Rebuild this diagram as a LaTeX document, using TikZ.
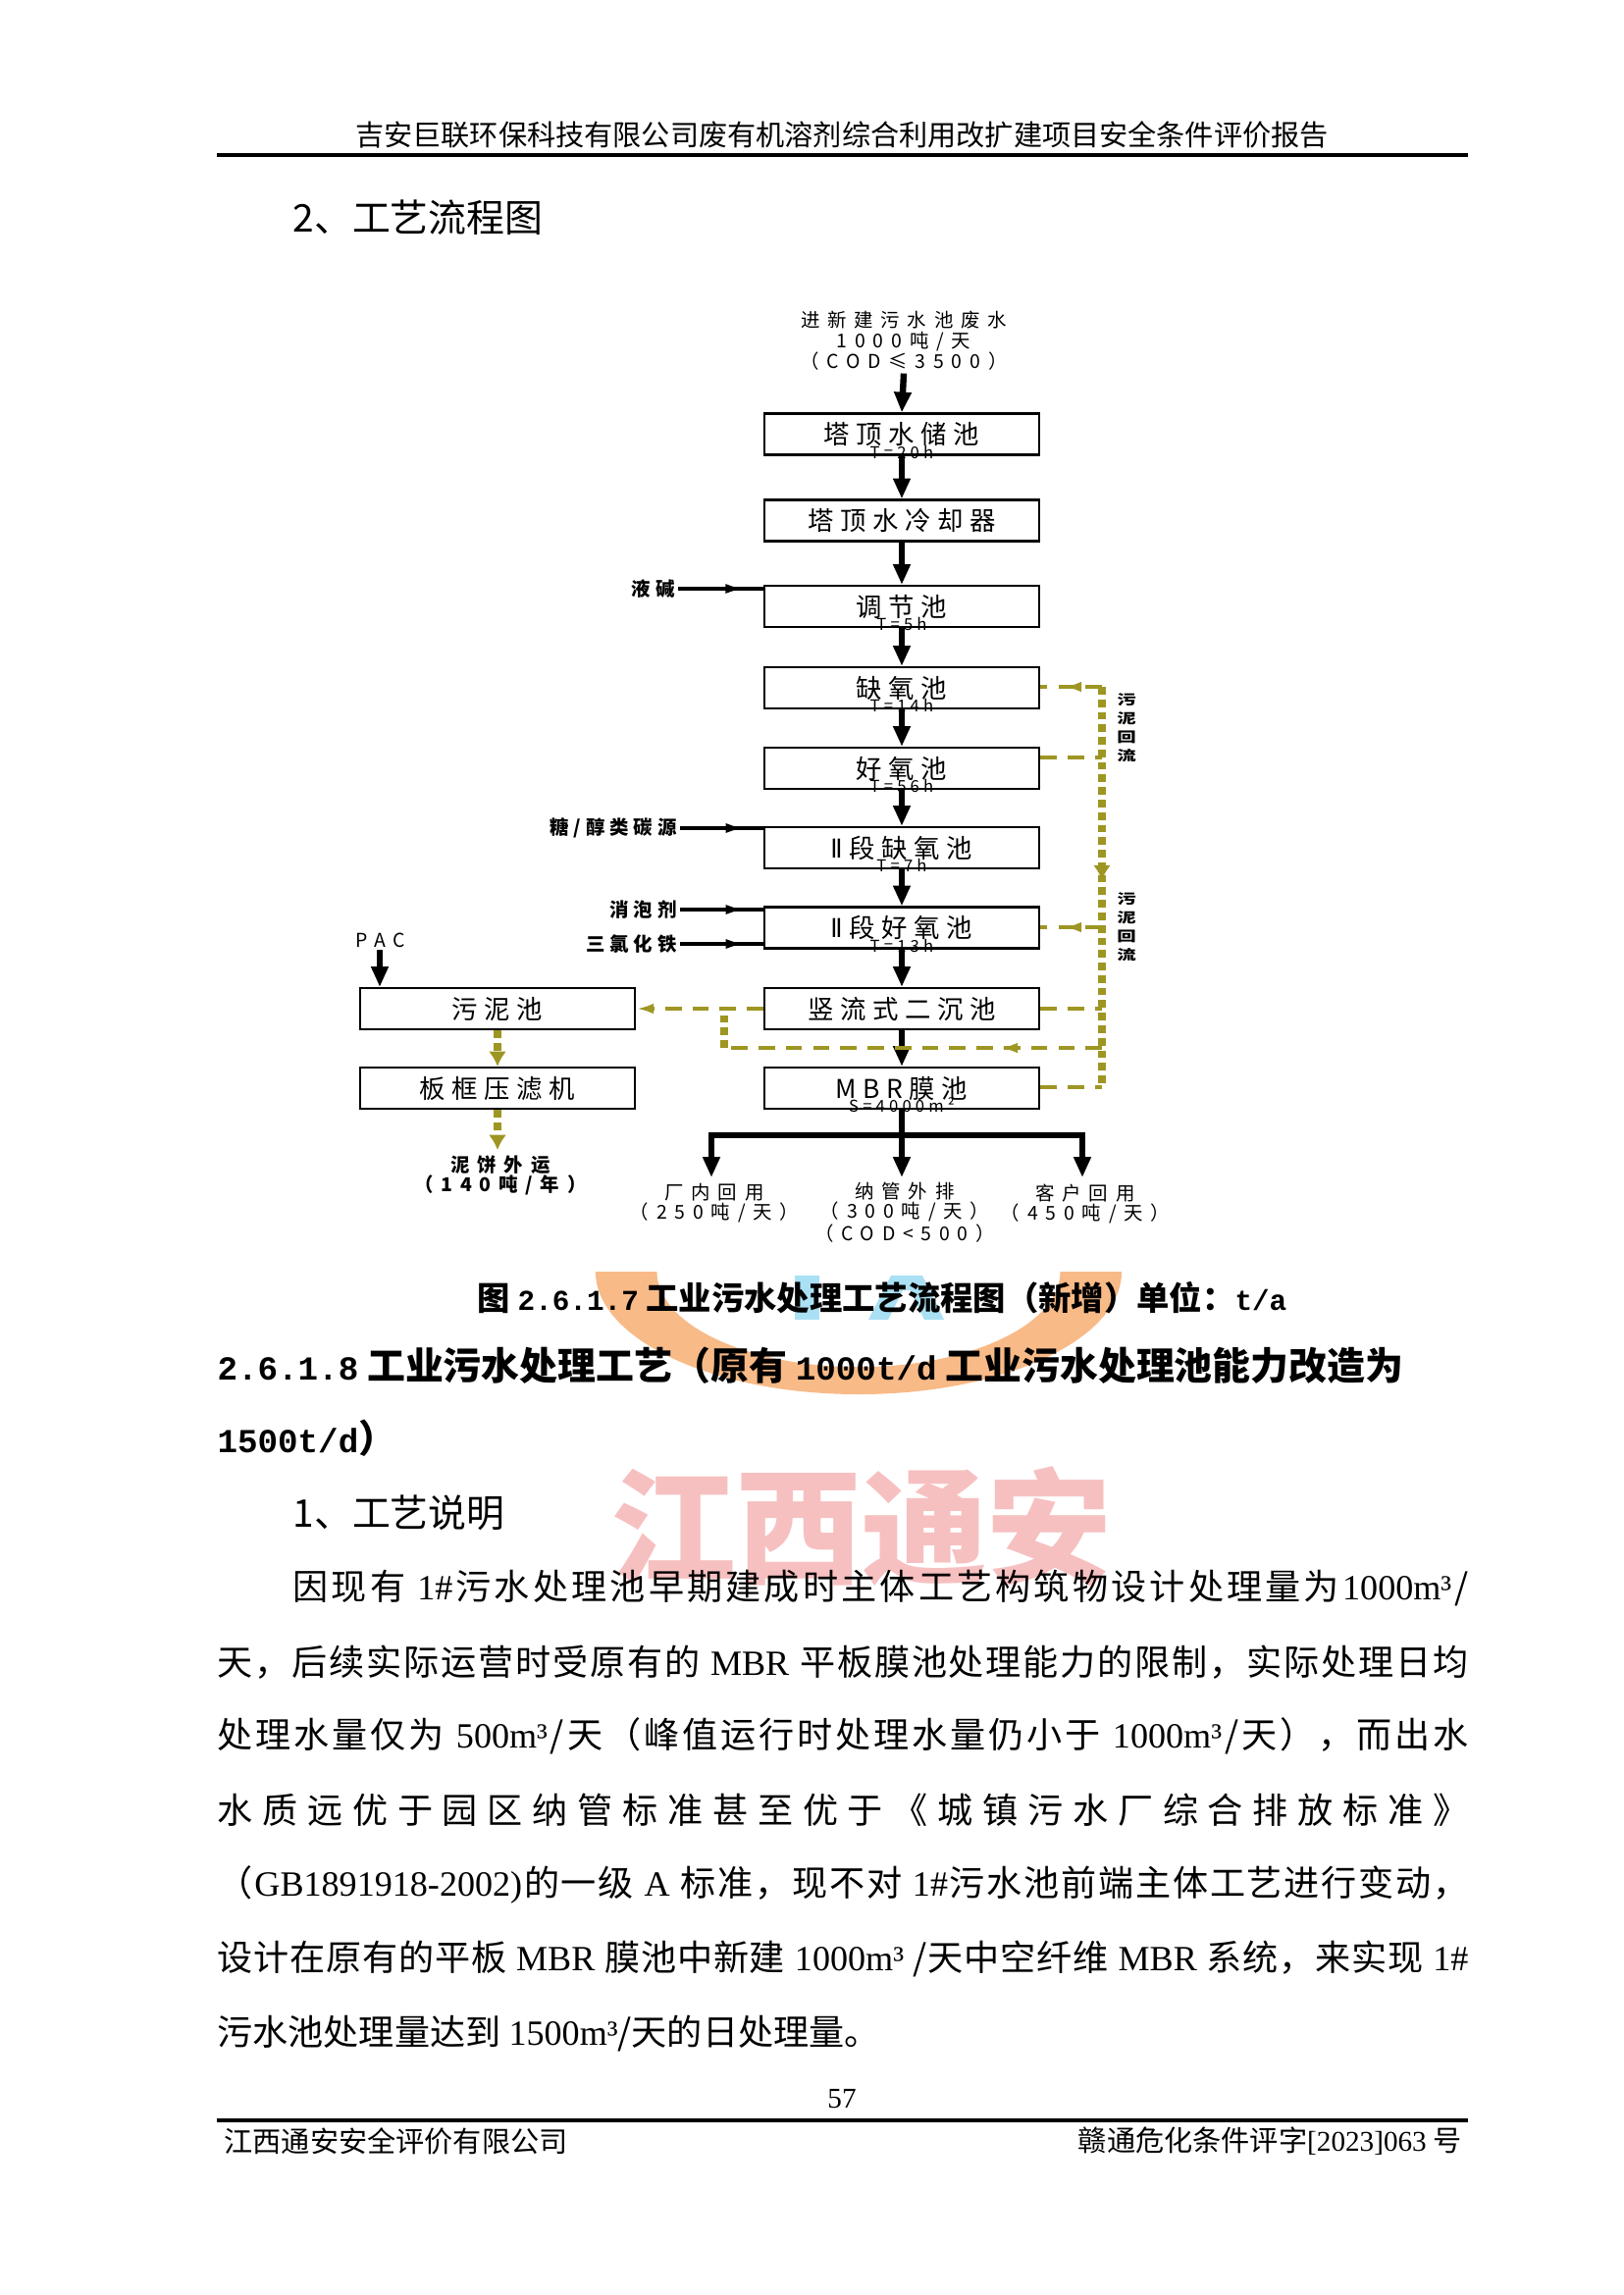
\documentclass[tikz,border=0pt]{standalone}
\usepackage{fontspec}
\usepackage{graphicx}
\setmainfont{Noto Sans CJK SC}
\newfontfamily\latf{Liberation Serif}
\newfontfamily\monof[Scale=0.88]{Liberation Mono}
\newfontfamily\dgf[LetterSpace=25]{Noto Sans CJK SC}
\newfontfamily\dgw[LetterSpace=40]{Noto Sans CJK SC}
\usetikzlibrary{arrows.meta,decorations.markings}
\definecolor{olv}{RGB}{158,150,35}
\definecolor{wpink}{RGB}{247,192,192}
\definecolor{lorange}{RGB}{248,186,135}
\definecolor{lblue}{RGB}{170,224,243}
\makeatletter
\def\spr@stop{\spr@stop}
\def\spr@stopm{\spr@stop}
\def\spr#1{\spr@first#1\spr@stop}
\def\spr@first#1{{#1}\spr@next}
\def\spr@next#1{\def\spr@tmp{#1}\ifx\spr@tmp\spr@stopm\else\hfil{#1}\expandafter\spr@next\fi}
\makeatother
\newcommand\bodyf{\fontsize{13}{16}\selectfont}
\tikzset{
  box/.style={draw, line width=0.8pt, minimum width=100.8pt, minimum height=15.1pt, inner sep=0pt, font=\dgf\fontsize{9.5}{10}\selectfont},
  tl/.style={inner sep=0pt, font=\dgf\fontsize{6}{6}\selectfont},
  flow/.style={line width=2.3pt, -{Triangle[length=7.5pt,width=6pt]}},
  flowline/.style={line width=2.3pt},
  thinline/.style={line width=1.2pt},
  midarrow/.style={postaction={decorate}, decoration={markings, mark=at position #1 with {\arrow{Latex[length=7pt,width=3.6pt]}}}},
  hd/.style={color=olv, line width=1.6pt, dash pattern=on 6pt off 4pt},
  vd/.style={color=olv, line width=2.8pt, dash pattern=on 2.8pt off 1.8pt},
  oarrowh/.style={postaction={decorate}, decoration={markings, mark=at position #1 with {\arrow[color=olv]{Latex[length=6.5pt,width=3.8pt]}}}},
  oarrowv/.style={postaction={decorate}, decoration={markings, mark=at position #1 with {\arrow[color=olv]{Latex[length=5.5pt,width=6.5pt]}}}},
  slab/.style={inner sep=0pt, font=\dgf\bfseries\fontsize{7}{8}\selectfont},
  blab/.style={inner sep=0pt, align=center, font=\dgw\fontsize{7}{7.2}\selectfont},
  vlab/.style={inner sep=0pt, font=\bfseries\fontsize{7}{8}\selectfont},
  plain/.style={inner sep=0pt},
}
\newcommand\vstack[1]{\scalebox{1}[0.72]{\shortstack{#1}}}
\begin{document}
\begin{tikzpicture}[x=0.36pt,y=-0.36pt]
\fill[white] (0,0) rectangle (1654,2339);
\useasboundingbox (0,0) rectangle (1654,2339);

% ---- watermark logo ----
\begin{scope}
  \clip (590,1296) rectangle (1160,1440);
  \fill[lorange, even odd rule] (875,1296) ellipse [x radius=96.5pt, y radius=45pt]
                                (875,1296) ellipse [x radius=74pt, y radius=35pt];
\end{scope}
\fill[lblue] (810,1300) rectangle (835,1345);
\fill[lblue] (885,1345) -- (908,1300) -- (940,1300) -- (962,1345) -- (942,1345) -- (928,1315) -- (920,1315) -- (905,1345) -- cycle;
\node[plain, text=wpink, font=\bfseries\fontsize{46}{46}\selectfont] (wm) at (878,1556) {江西通安};

% ---- page header ----
\node[plain, font=\fontsize{10.5}{12}\selectfont] (hdr) at (858,137) {吉安巨联环保科技有限公司废有机溶剂综合利用改扩建项目安全条件评价报告};
\coordinate (hrl) at (221,158);
\coordinate (hrr) at (1496,158);
\draw[line width=1.2pt] (hrl) -- (hrr);
\node[plain, anchor=west, font=\fontsize{14}{16}\selectfont] (sec2) at (298,222) {2、工艺流程图};

% ---- main column boxes ----
\node[blab, font=\dgw\fontsize{7}{7.6}\selectfont] (IN) at (921,347) {进新建污水池废水\\1000吨/天\\（COD≤3500）};
\node[box] (B1) at (919,442.5) {塔顶水储池};
\node[tl] (T1) at ([yshift=1.4pt]B1.south) {T=20h};
\node[box] (B2) at (919,530.5) {塔顶水冷却器};
\node[box] (B3) at (919,618) {调节池};
\node[tl] (T3) at ([yshift=1.4pt]B3.south) {T=5h};
\node[box] (B4) at (919,701) {缺氧池};
\node[tl] (T4) at ([yshift=1.4pt]B4.south) {T=14h};
\node[box] (B5) at (919,783) {好氧池};
\node[tl] (T5) at ([yshift=1.4pt]B5.south) {T=56h};
\node[box] (B6) at (919,864) {I\kern-1pt I段缺氧池};
\node[tl] (T6) at ([yshift=1.4pt]B6.south) {T=7h};
\node[box] (B7) at (919,945.5) {I\kern-1pt I段好氧池};
\node[tl] (T7) at ([yshift=1.4pt]B7.south) {T=13h};
\node[box] (B8) at (919,1028) {竖流式二沉池};
\node[box] (B9) at (919,1109) {MBR膜池};
\node[tl] (T9) at ([yshift=1.8pt]B9.south) {S=4000m²};
\node[box] (S1) at (507,1028) {污泥池};
\node[box] (S2) at (507,1109) {板框压滤机};

% ---- main flow ----
\draw[flow] ([yshift=-1pt]IN.south) -- (B1.north);
\draw[flow] (B1.south) -- (B2.north);
\draw[flow] (B2.south) -- (B3.north);
\draw[flow] (B3.south) -- (B4.north);
\draw[flow] (B4.south) -- (B5.north);
\draw[flow] (B5.south) -- (B6.north);
\draw[flow] (B6.south) -- (B7.north);
\draw[flow] (B7.south) -- (B8.north);
\draw[flow] (B8.south) -- (B9.north);

% ---- side inputs ----
\node[slab, anchor=east] (LJ) at (688,600) {液碱};
\node[slab, anchor=east] (TC) at (690,844) {糖/醇类碳源};
\node[slab, anchor=east] (XP) at (690,927) {消泡剂};
\node[slab, anchor=east] (SL) at (690,962) {三氯化铁};
\draw[thinline, midarrow=0.78] ([xshift=1pt]LJ.east) -- (B3.west |- LJ.east);
\draw[thinline, midarrow=0.78] ([xshift=1pt]TC.east) -- (B6.west |- TC.east);
\draw[thinline, midarrow=0.78] ([xshift=1pt]XP.east) -- (B7.west |- XP.east);
\draw[thinline, midarrow=0.78] ([xshift=1pt]SL.east) -- (B7.west |- SL.east);

% ---- PAC ----
\node[plain, font=\dgw\fontsize{7}{8}\selectfont] (PAC) at (388,958) {PAC};
\coordinate (pa) at (387,968);
\draw[flow] (pa) -- (pa |- S1.north);

% ---- outputs ----
\coordinate (jm) at (919,1157);
\coordinate (o1) at (725,1200);
\coordinate (o2) at (919,1200);
\coordinate (o3) at (1103,1200);
\draw[flowline] (B9.south) -- (jm);
\draw[flow] (jm) -| (o1);
\draw[flow] (jm) -| (o3);
\draw[flow] (jm) -- (o2);
\node[blab] (O1) at (728,1226.5) {厂内回用\\（250吨/天）};
\node[blab] (O2) at (922,1236) {纳管外排\\（300吨/天）\\（COD<500）};
\node[blab] (O3) at (1106,1226.5) {客户回用\\（450吨/天）};

% ---- sludge recycle (olive dashed) ----
\coordinate (rT) at (1123,700);
\coordinate (r5) at (1123,772);
\coordinate (r7) at (1123,945);
\coordinate (r8) at (1123,1028);
\coordinate (rH) at (1123,1068);
\coordinate (rM) at (1123,1108);
\coordinate (lH) at (738,1068);
\coordinate (lU) at (738,1028);
\coordinate (cake) at (507,1172);
\draw[vd, oarrowv=0.483] (rT) -- (rM);
\draw[hd, oarrowh=0.62] (rT) -- (B4.east |- rT);
\draw[hd] (B5.east |- r5) -- (r5);
\draw[hd, oarrowh=0.62] (r7) -- (B7.east |- r7);
\draw[hd] (B8.east) -- (r8);
\draw[hd] (B9.east |- rM) -- (rM);
\draw[hd, oarrowh=0.27] (rH) -- (lH);
\draw[vd] (lH) -- (lU);
\draw[hd, -{Latex[length=6.5pt,width=3.8pt]}] (B8.west) -- (S1.east);
\draw[vd, -{Latex[length=5.5pt,width=6.5pt]}] (S1.south) -- (S2.north);
\draw[vd, -{Latex[length=5.5pt,width=6.5pt]}] (S2.south) -- (cake);
\node[blab, font=\dgw\bfseries\fontsize{7}{7.2}\selectfont] (NB) at (510,1198) {泥饼外运\\（140吨/年）};
\node[vlab] (HL1) at (1148,742) {\vstack{污\\泥\\回\\流}};
\node[vlab] (HL2) at (1148,945) {\vstack{污\\泥\\回\\流}};

% ---- caption and text ----
\node[plain, font=\bfseries\fontsize{12}{14}\selectfont] (cap) at (899,1323) {图 {\monof 2.6.1.7} 工业污水处理工艺流程图（新增）单位：{\monof t/a}};
\node[plain, anchor=west, font=\bfseries\fontsize{14}{16}\selectfont] (h1) at (221,1392) {{\monof 2.6.1.8} 工业污水处理工艺（原有 {\monof 1000t/d} 工业污水处理池能力改造为};
\node[plain, anchor=west, font=\bfseries\fontsize{14}{16}\selectfont] (h2) at (221,1466) {{\monof 1500t/d}）};
\node[plain, anchor=west, font=\fontsize{14}{16}\selectfont] (s1) at (298,1542) {1、工艺说明};

\node[plain, anchor=west] (L1) at (298,1618) {\hbox to 431.3pt{\bodyf\spr{因现有{\latf\ 1\#}污水处理池早期建成时主体工艺构筑物设计处理量为{\latf 1000m³}/}}};
\node[plain, anchor=west] (L2) at (221,1694) {\hbox to 459pt{\bodyf\spr{天，后续实际运营时受原有的{\latf\ MBR\ }平板膜池处理能力的限制，实际处理日均}}};
\node[plain, anchor=west] (L3) at (221,1769) {\hbox to 459pt{\bodyf\spr{处理水量仅为{\latf\ 500m³}/天（峰值运行时处理水量仍小于{\latf\ 1000m³}/天），而出水}}};
\node[plain, anchor=west] (L4) at (221,1845) {\hbox to 459pt{\bodyf\spr{水质远优于园区纳管标准甚至优于《城镇污水厂综合排放标准》}}};
\node[plain, anchor=west] (L5) at (221,1921) {\hbox to 459pt{\bodyf\spr{（{\latf GB1891918-2002)}的一级{\latf\ A\ }标准，现不对{\latf\ 1\#}污水池前端主体工艺进行变动，}}};
\node[plain, anchor=west] (L6) at (221,1996) {\hbox to 459pt{\bodyf\spr{设计在原有的平板{\latf\ MBR\ }膜池中新建{\latf\ 1000m³\ }/天中空纤维{\latf\ MBR\ }系统，来实现{\latf\ 1\#}}}};
\node[plain, anchor=west, font=\fontsize{13}{16}\selectfont] (L7) at (221,2072) {污水池处理量达到 {\latf 1500m³}/天的日处理量。};

% ---- footer ----
\node[plain, font=\latf\fontsize{10.5}{12}\selectfont] (pg) at (858,2139) {57};
\coordinate (frl) at (221,2161);
\coordinate (frr) at (1496,2161);
\draw[line width=1.2pt] (frl) -- (frr);
\node[plain, anchor=west, font=\fontsize{10.5}{12}\selectfont] (fl) at (228,2182) {江西通安安全评价有限公司};
\node[plain, anchor=east, font=\fontsize{10.5}{12}\selectfont] (fr) at (1490,2182) {赣通危化条件评字{\latf [2023]063} 号};
\end{tikzpicture}
\end{document}
